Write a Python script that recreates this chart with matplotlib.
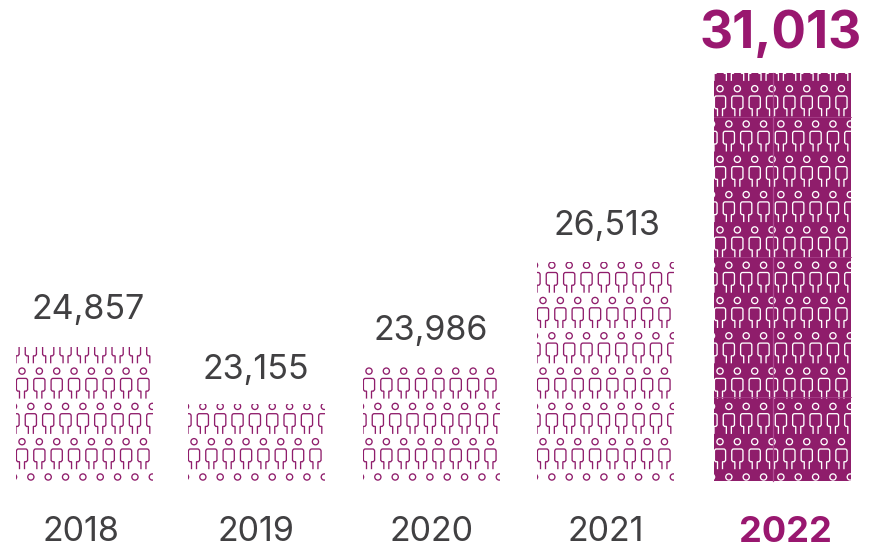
import matplotlib
matplotlib.use("Agg")
import matplotlib.pyplot as plt
from matplotlib.path import Path
from matplotlib.patches import PathPatch

plt.rcParams['font.family'] = ['Inter', 'DejaVu Sans']

years = ['2018', '2019', '2020', '2021', '2022']
totals = [24857, 23155, 23986, 26513, 31013]
# bar heights do not follow the totals exactly
bar_heights = [134, 77, 114, 219, 408]

GREY = '#414042'
PURPLE = '#8f1d6b'
TITLE = '#99176f'

lefts = [16, 188, 363, 537, 714]
bar_w = 137
label_x = [88, 256, 431, 607, 781]
year_x = [81, 256, 431, 606, 785]
label_gap = [39, 36, 38, 38, 42]


def person(x, y):
    # y is the head centre, axis goes upward
    head = Path.circle((x, y), 3.1)
    body = Path(
        [(x - 2.5, y - 27.5), (x - 2.5, y - 20), (x - 4.4, y - 20), (x - 5.6, y - 18.6), (x - 5.6, y - 9.5),
         (x - 5.6, y - 7.3), (x - 3.6, y - 7.3), (x + 3.6, y - 7.3), (x + 5.6, y - 7.3),
         (x + 5.6, y - 9.5), (x + 5.6, y - 18.6), (x + 4.4, y - 20), (x + 2.5, y - 20), (x + 2.5, y - 27.5)],
        [Path.MOVETO, Path.LINETO, Path.LINETO, Path.LINETO, Path.LINETO,
         Path.CURVE3, Path.CURVE3, Path.LINETO, Path.CURVE3,
         Path.CURVE3, Path.LINETO, Path.LINETO, Path.LINETO, Path.LINETO])
    return [head, body]


fig = plt.figure(figsize=(8.84, 5.49), dpi=100)
ax = fig.add_axes([0, 0, 1, 1])
ax.set_xlim(0, 884)
ax.set_ylim(-68, 481)
ax.axis('off')

for i in range(len(years)):
    solid = i == len(years) - 1
    bars = ax.bar(lefts[i], bar_heights[i], width=bar_w, align='edge',
                  color=PURPLE if solid else 'none', edgecolor='none', zorder=1)
    bar = bars[0]

    parts = []
    k = 0
    while 4 + 35.3 * k - 28 < bar_heights[i]:
        y = 4 + 35.3 * k
        if k % 2 == 0:
            xs = [lefts[i] - 2.5 + 17.35 * c for c in range(10)]
        else:
            xs = [lefts[i] + 6 + 17.35 * c for c in range(8)]
        for x in xs:
            parts += person(x, y)
        k += 1
    fig_patch = PathPatch(Path.make_compound_path(*parts), facecolor='none',
                          edgecolor='white' if solid else PURPLE, lw=0.95, zorder=2)
    ax.add_patch(fig_patch)
    fig_patch.set_clip_path(bar)

    ax.text(label_x[i], bar_heights[i] + label_gap[i] - (4 if solid else 2), f"{totals[i]:,}",
            ha='center', va='center', fontsize=37 if solid else 24.5,
            fontweight='bold' if solid else 'normal', color=TITLE if solid else GREY)
    ax.text(year_x[i], -51, years[i], ha='center', va='center', fontsize=26 if solid else 24.5,
            fontweight='bold' if solid else 'normal', color=TITLE if solid else GREY)

# tile seams in the solid bar
ax.plot([773, 773], [0, bar_heights[4]], color='#b04d93', lw=0.9, zorder=3)
for s in [84, 224, 364]:
    ax.plot([lefts[4], lefts[4] + bar_w], [s, s], color='#a8418a', lw=0.6, zorder=3)

fig.savefig('out.png', dpi=100)
